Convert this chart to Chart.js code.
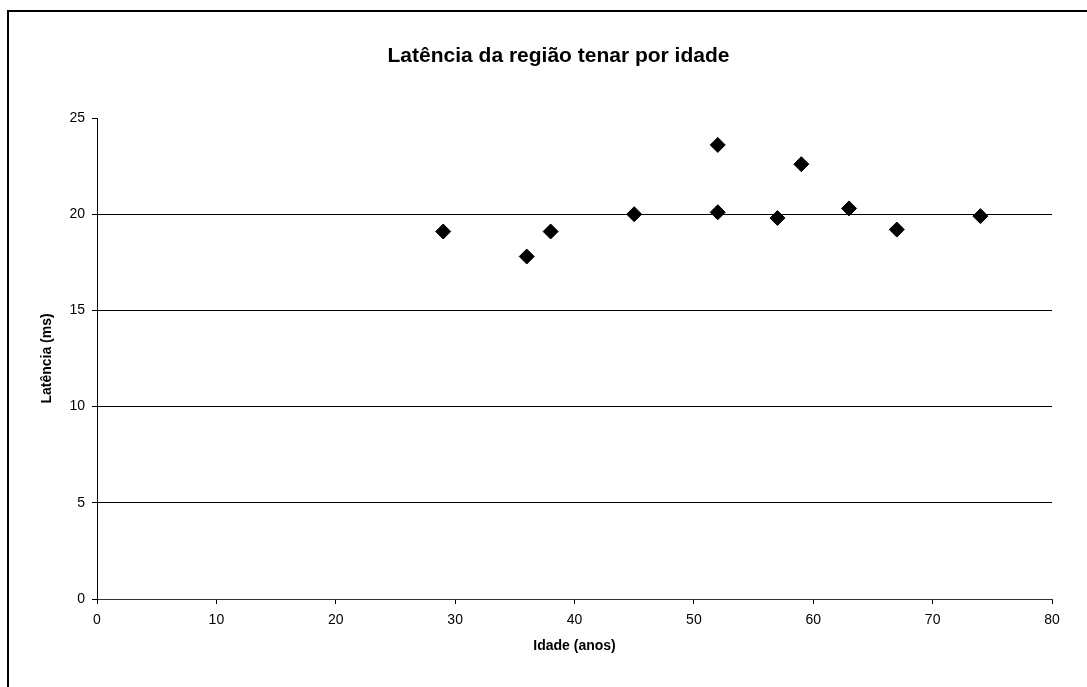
<!DOCTYPE html>
<html lang="pt">
<head>
    <meta charset="UTF-8">
    <title>Latência da região tenar por idade</title>
    <script src="https://cdn.jsdelivr.net/npm/chart.js"></script>
    <style>
        body { margin: 0; overflow: hidden; background: #fff; }
        #frame {
            position: absolute; left: 7px; top: 10px;
            width: 1200px; height: 800px;
            border-top: 2px solid #000; border-left: 2px solid #000;
        }
        #latChart { position: absolute; left: 0; top: 0; }
    </style>
</head>
<body>
    <div id="frame"></div>
    <canvas id="latChart" width="1087" height="687"></canvas>

    <script>
        // valores
        const idades = [29, 36, 38, 45, 52, 52, 57, 59, 63, 67, 74];
        const latencias = [19.1, 17.8, 19.1, 20.0, 23.6, 20.1, 19.8, 22.6, 20.3, 19.2, 19.9];
        const xTicks = [0, 10, 20, 30, 40, 50, 60, 70, 80];
        const yTicks = [0, 5, 10, 15, 20, 25];
        const titulo = 'Latência da região tenar por idade';

        const pontos = idades.map((x, i) => ({ x: x, y: latencias[i] }));
        const fonte = "Arial, 'Liberation Sans', sans-serif";

        // o título fica centrado no quadro original (mais largo que a janela),
        // não na área do gráfico, então é desenhado à mão
        const tituloPlugin = {
            id: 'tituloFixo',
            afterDraw(chart) {
                const c = chart.ctx;
                c.save();
                c.font = 'bold 21px ' + fonte;
                c.fillStyle = '#000';
                c.textAlign = 'center';
                c.textBaseline = 'middle';
                c.fillText(titulo, 558.5, 56);
                c.restore();
            }
        };

        const ctx = document.getElementById('latChart').getContext('2d');
        const latChart = new Chart(ctx, {
            type: 'scatter',
            data: {
                datasets: [{
                    label: 'Latência',
                    data: pontos,
                    pointStyle: 'rectRot',
                    pointRadius: 7.5,
                    pointHoverRadius: 7.5,
                    backgroundColor: '#000',
                    borderColor: '#000',
                    borderWidth: 1
                }]
            },
            plugins: [tituloPlugin],
            options: {
                responsive: false,
                animation: false,
                layout: { padding: { left: 0, top: 118, right: 35, bottom: 0 } },
                plugins: {
                    legend: { display: false },
                    tooltip: { enabled: false },
                    title: { display: false }
                },
                scales: {
                    x: {
                        type: 'linear',
                        min: 0, max: 80,
                        afterFit: s => { s.height = 88; },
                        afterBuildTicks: s => { s.ticks = xTicks.map(v => ({ value: v })); },
                        grid: { drawOnChartArea: false, tickLength: 5, tickColor: '#000' },
                        border: { color: '#333' },
                        ticks: { color: '#000', padding: 8, font: { family: fonte, size: 14 } },
                        title: {
                            display: true,
                            text: 'Idade (anos)',
                            color: '#000',
                            font: { family: fonte, size: 14, weight: 'bold' },
                            padding: { top: 0, bottom: 32 }
                        }
                    },
                    y: {
                        type: 'linear',
                        min: 0, max: 25,
                        afterFit: s => { s.width = 97; },
                        afterBuildTicks: s => { s.ticks = yTicks.map(v => ({ value: v })); },
                        grid: {
                            tickLength: 5,
                            tickColor: '#000',
                            color: c => (c.tick && (c.tick.value === 0 || c.tick.value === 25)) ? 'rgba(0,0,0,0)' : '#000'
                        },
                        border: { color: '#000' },
                        ticks: { color: '#000', padding: 7, font: { family: fonte, size: 14 } },
                        title: {
                            display: true,
                            text: 'Latência (ms)',
                            color: '#000',
                            font: { family: fonte, size: 14, weight: 'bold' },
                            padding: { top: 39, bottom: 0 }
                        }
                    }
                }
            }
        });
    </script>
</body>
</html>
